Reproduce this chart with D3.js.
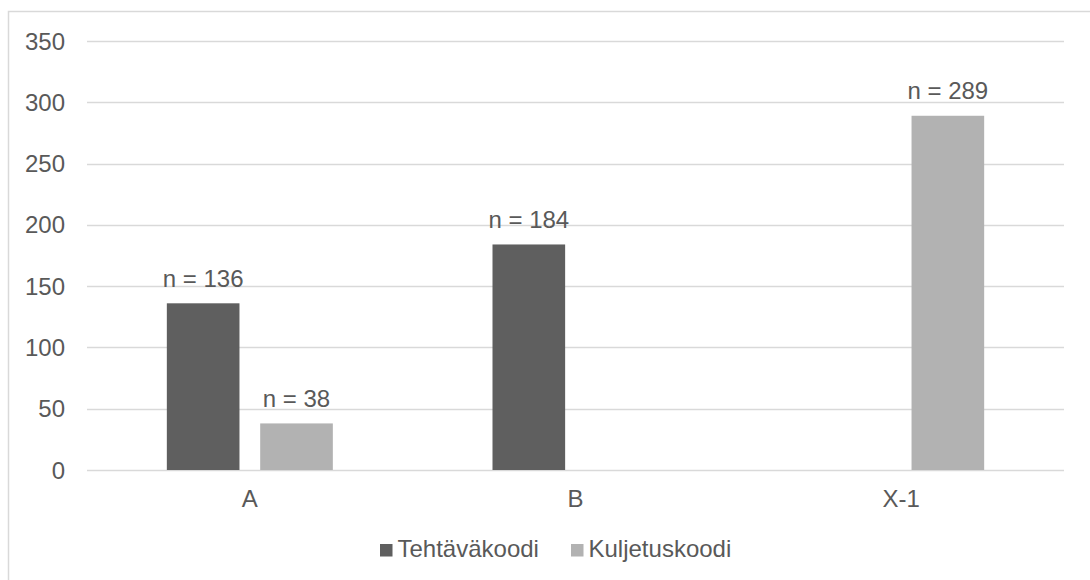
<!DOCTYPE html>
<html>
<head>
<meta charset="utf-8">
<script src="https://cdn.jsdelivr.net/npm/d3@7"></script>
<style>
  html, body { margin: 0; padding: 0; background: #fff; }
  svg { display: block; font-family: "Liberation Sans", Arial, sans-serif; }
</style>
</head>
<body>
<svg id="chart" width="1090" height="580"></svg>
<script>
// Categories and series
const categories = ["A", "B", "X-1"];
const seriesNames = ["Tehtäväkoodi", "Kuljetuskoodi"];
const tehtavakoodi = [136, 184, null];
const kuljetuskoodi = [38, null, 289];
const yTicks = [0, 50, 100, 150, 200, 250, 300, 350];
const seriesColors = ["#5f5f5f", "#b2b2b2"];

const series = [tehtavakoodi, kuljetuskoodi];

const svg = d3.select("#chart");
const plot = { left: 87, right: 1064, top: 41, bottom: 470 };
const textColor = "#595959";
const gridColor = "#d9d9d9";
const fontSize = 24;

// Outer chart frame (continues past the right and bottom edges)
svg.append("rect")
  .attr("x", 8.5).attr("y", 11.5)
  .attr("width", 1200).attr("height", 700)
  .attr("fill", "none").attr("stroke", gridColor).attr("stroke-width", 1.5);

const x0 = d3.scaleBand().domain(categories).range([plot.left, plot.right]);
const groupW = 166;
const x1 = d3.scaleBand().domain(seriesNames).range([0, groupW]).paddingInner(0.222);
const y = d3.scaleLinear().domain([0, 350]).range([plot.bottom, plot.top]);

// Horizontal gridlines
svg.append("g").selectAll("line").data(yTicks).join("line")
  .attr("x1", plot.left).attr("x2", plot.right)
  .attr("y1", d => Math.round(y(d)) + 0.5).attr("y2", d => Math.round(y(d)) + 0.5)
  .attr("stroke", gridColor).attr("stroke-width", 1.5);

// Y tick labels
svg.append("g").selectAll("text").data(yTicks).join("text")
  .attr("x", 65).attr("y", d => y(d) + 8.5)
  .attr("text-anchor", "end")
  .attr("font-size", fontSize).attr("fill", textColor)
  .text(d => d);

// Bars and value labels
const bars = [];
categories.forEach((c, i) => {
  series.forEach((s, j) => {
    if (s[i] != null) bars.push({ cat: c, name: seriesNames[j], value: s[i], color: seriesColors[j] });
  });
});
const gx = c => x0(c) + (x0.bandwidth() - groupW) / 2;

svg.append("g").selectAll("rect").data(bars).join("rect")
  .attr("x", d => gx(d.cat) + x1(d.name))
  .attr("width", x1.bandwidth())
  .attr("y", d => y(d.value))
  .attr("height", d => y(0) - y(d.value))
  .attr("fill", d => d.color);

svg.append("g").selectAll("text").data(bars).join("text")
  .attr("x", d => gx(d.cat) + x1(d.name) + x1.bandwidth() / 2)
  .attr("y", d => y(d.value) - 16.5)
  .attr("text-anchor", "middle")
  .attr("font-size", fontSize).attr("fill", textColor)
  .text(d => "n = " + d.value);

// Category labels
svg.append("g").selectAll("text").data(categories).join("text")
  .attr("x", d => x0(d) + x0.bandwidth() / 2)
  .attr("y", 507)
  .attr("text-anchor", "middle")
  .attr("font-size", fontSize).attr("fill", textColor)
  .text(d => d);

// Legend
const legendItems = [
  { name: seriesNames[0], color: seriesColors[0], x: 380 },
  { name: seriesNames[1], color: seriesColors[1], x: 571 }
];
const lg = svg.append("g").selectAll("g").data(legendItems).join("g")
  .attr("transform", d => `translate(${d.x},0)`);
lg.append("rect").attr("x", 0).attr("y", 544).attr("width", 12.5).attr("height", 12.5)
  .attr("fill", d => d.color);
lg.append("text").attr("x", 17.5).attr("y", 557)
  .attr("font-size", fontSize).attr("fill", textColor)
  .text(d => d.name);
</script>
</body>
</html>
